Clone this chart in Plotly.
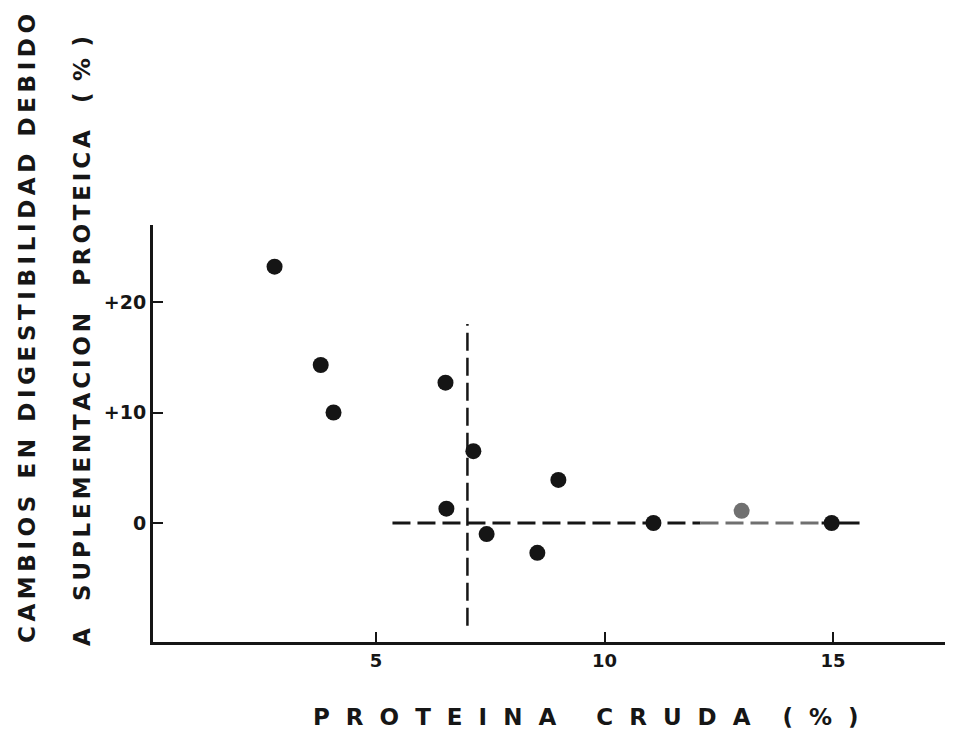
import plotly.graph_objects as go

# Data
proteina = [2.78, 3.79, 4.07, 6.52, 7.13, 6.54, 7.42, 8.53, 8.99, 11.07, 13.0, 14.97]
cambio = [23.2, 14.3, 10.0, 12.7, 6.5, 1.3, -1.0, -2.7, 3.9, 0.0, 1.1, 0.0]
tonos = ["#151515"] * 10 + ["#707070", "#151515"]

# Reference (dashed) lines
vline_x = [7.0, 7.0]
vline_y = [-9.3, 18.0]
hline_x_dark = [5.36, 12.1]
hline_x_gray = [12.1, 14.75]
hline_x_end = [14.75, 15.58]
hline_y = [0.0, 0.0]

xticks = [5, 10, 15]
xticklabels = ["5", "10", "15"]
yticks = [0, 10, 20]
yticklabels = ["0", "+10", "+20"]

FONT = "DejaVu Sans"
INK = "#161616"

fig = go.Figure()
dash = "18px,7px"
fig.add_trace(go.Scatter(x=vline_x, y=vline_y, mode="lines",
                         line=dict(color=INK, width=2.5, dash=dash), hoverinfo="skip"))
fig.add_trace(go.Scatter(x=hline_x_dark, y=hline_y, mode="lines",
                         line=dict(color=INK, width=3, dash=dash), hoverinfo="skip"))
fig.add_trace(go.Scatter(x=hline_x_gray, y=hline_y, mode="lines",
                         line=dict(color="#707070", width=3, dash=dash), hoverinfo="skip"))
fig.add_trace(go.Scatter(x=hline_x_end, y=hline_y, mode="lines",
                         line=dict(color=INK, width=3), hoverinfo="skip"))
fig.add_trace(go.Scatter(x=proteina, y=cambio, mode="markers",
                         marker=dict(size=16, color=tonos, line=dict(width=0))))

sp = "\u2009"
s6 = "\u2006"
en = "\u2002"

ytitle1 = (sp + " " + sp).join(sp.join(list(w)) for w in
                               ["CAMBIOS", "EN", "DIGESTIBILIDAD", "DEBIDO"])
ytitle2 = (s6 + en + " " + s6).join(
    [s6.join("A"), s6.join("SUPLEMENTACION"), s6.join("PROTEICA"), en.join("(%)")])
xtitle = ("  ".join("PROTEINA") + "     " + "  ".join("CRUDA") + "    "
          + "  ".join("(%)"))

W, H = 955, 733
L, R, T, B = 153, 10, 225, 91
pw, ph = W - L - R, H - T - B

def px(x):
    return (x - L) / pw

def py(y):
    return (H - B - y) / ph

fig.add_annotation(text=ytitle1, xref="paper", yref="paper", x=px(27), y=py(329),
                   textangle=-90, showarrow=False, xanchor="center", yanchor="middle",
                   font=dict(family=FONT, size=23, color=INK, weight="bold"))
fig.add_annotation(text=ytitle2, xref="paper", yref="paper", x=px(82), y=py(341),
                   textangle=-90, showarrow=False, xanchor="center", yanchor="middle",
                   font=dict(family=FONT, size=23, color=INK, weight="bold"))
fig.add_annotation(text=xtitle, xref="paper", yref="paper", x=px(586), y=py(717),
                   showarrow=False, xanchor="center", yanchor="middle",
                   font=dict(family=FONT, size=23, color=INK, weight="bold"))

fig.update_layout(
    width=W, height=H,
    margin=dict(l=L, r=R, t=T, b=B),
    paper_bgcolor="white", plot_bgcolor="white",
    showlegend=False,
    xaxis=dict(range=[0.12, 17.45], showgrid=False, zeroline=False,
               showline=True, linecolor=INK, linewidth=3,
               tickmode="array", tickvals=xticks, ticktext=xticklabels,
               ticks="inside", ticklen=10, tickwidth=2, tickcolor=INK,
               tickfont=dict(family=FONT, size=18, color=INK, weight="bold")),
    yaxis=dict(range=[-10.77, 26.97], showgrid=False, zeroline=False,
               showline=True, linecolor=INK, linewidth=3,
               tickmode="array", tickvals=yticks, ticktext=yticklabels,
               ticks="inside", ticklen=10, tickwidth=2, tickcolor=INK,
               tickfont=dict(family=FONT, size=19, color=INK, weight="bold")),
)

fig.write_html("out.html")
